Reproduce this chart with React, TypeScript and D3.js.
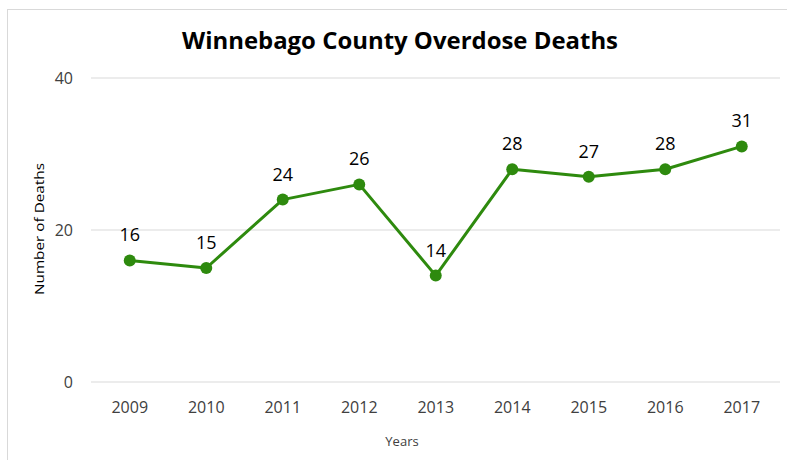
import React from "react";
import * as d3 from "d3";

const years = ["2009", "2010", "2011", "2012", "2013", "2014", "2015", "2016", "2017"];
const deaths = [16, 15, 24, 26, 14, 28, 27, 28, 31];
const yTicks = [0, 20, 40];

const W = 787;
const H = 460;
const font = "'Open Sans', 'Liberation Sans', sans-serif";

export default function App() {
  const x = d3.scaleBand<string>().domain(years).range([91.5, 780]);
  const y = d3.scaleLinear().domain([0, 40]).range([382, 78]);
  const cx = (d: string) => (x(d) as number) + x.bandwidth() / 2;
  const line = d3
    .line<number>()
    .x((_, i) => cx(years[i]))
    .y((d) => y(d));

  return (
    <svg
      width={W}
      height={H}
      style={{ position: "absolute", left: 0, top: 0, background: "#fff" }}
      fontFamily={font}
    >
      <rect x={7.5} y={9.5} width={790} height={460} fill="#fff" stroke="#d9d9d9" />
      <text
        x={400}
        y={48.5}
        textAnchor="middle"
        fontSize={23}
        fontWeight="bold"
        fill="#000"
        textLength={436}
        lengthAdjust="spacingAndGlyphs"
      >
        Winnebago County Overdose Deaths
      </text>
      {yTicks.map((t) => (
        <g key={t}>
          <line x1={91} x2={780} y1={y(t)} y2={y(t)} stroke="#d9d9d9" strokeWidth={1.2} />
          <text x={73} y={y(t) + 6} textAnchor="end" fontSize={16} fill="#404040">
            {t}
          </text>
        </g>
      ))}
      {years.map((yr) => (
        <text key={yr} x={cx(yr)} y={413} textAnchor="middle" fontSize={16} fill="#404040">
          {yr}
        </text>
      ))}
      <text x={402} y={446} textAnchor="middle" fontSize={13} fill="#404040">
        Years
      </text>
      <text
        transform={`translate(39,229) rotate(-90)`}
        dy="0.35em"
        textAnchor="middle"
        fontSize={13}
        fill="#000"
        textLength={132}
        lengthAdjust="spacingAndGlyphs"
      >
        Number of Deaths
      </text>
      <path d={line(deaths) || ""} fill="none" stroke="#2E8A0E" strokeWidth={3} strokeLinejoin="round" />
      {deaths.map((d, i) => (
        <g key={years[i]}>
          <circle cx={cx(years[i])} cy={y(d)} r={6} fill="#2E8A0E" />
          <text x={cx(years[i])} y={y(d) - 19} textAnchor="middle" fontSize={18} fill="#000">
            {d}
          </text>
        </g>
      ))}
    </svg>
  );
}
